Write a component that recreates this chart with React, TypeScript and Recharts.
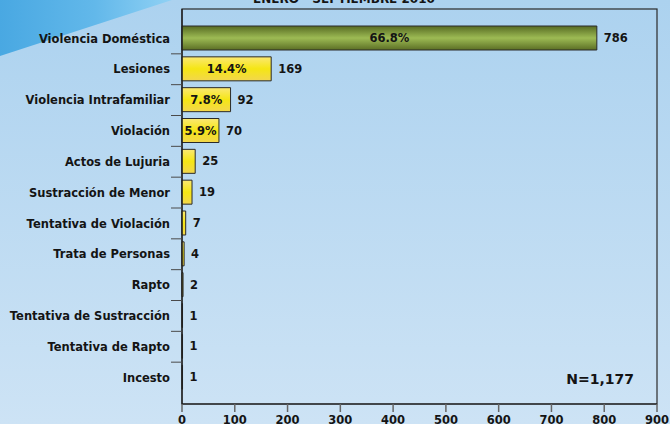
import React from 'react';
import { BarChart, Bar, XAxis, YAxis, LabelList, Cell } from 'recharts';

const categories = [
  'Violencia Doméstica',
  'Lesiones',
  'Violencia Intrafamiliar',
  'Violación',
  'Actos de Lujuria',
  'Sustracción de Menor',
  'Tentativa de Violación',
  'Trata de Personas',
  'Rapto',
  'Tentativa de Sustracción',
  'Tentativa de Rapto',
  'Incesto',
];
const counts = [786, 169, 92, 70, 25, 19, 7, 4, 2, 1, 1, 1];
const percents = ['66.8%', '14.4%', '7.8%', '5.9%', '', '', '', '', '', '', '', ''];
const xTicks = [0, 100, 200, 300, 400, 500, 600, 700, 800, 900];
const titleText = 'ENERO - SEPTIEMBRE 2010';
const totalLabel = 'N=1,177';

const data = categories.map((name, i) => ({ name, value: counts[i], pct: percents[i] }));

const W = 670;
const H = 424;
const PLOT_LEFT = 182;
const PLOT_RIGHT = 657;
const PLOT_TOP = 9;
const PLOT_BOTTOM = 404;
const PAD_TOP = 14;
const PAD_BOTTOM = 11;
const BAND = (PLOT_BOTTOM - PLOT_TOP - PAD_TOP - PAD_BOTTOM) / categories.length;
const TICK_MARGIN = 12;
const FONT = '"DejaVu Sans", Verdana, sans-serif';
const FS = 11.5;

const YTick = (props: any) => {
  const { x, y, payload, index } = props;
  const axisX = x + TICK_MARGIN;
  return (
    <g>
      <text
        x={x}
        y={y}
        dy="0.36em"
        textAnchor="end"
        fill="#141414"
        fontSize={FS}
        fontWeight="bold"
        fontFamily={FONT}
      >
        {payload.value}
      </text>
      {index < categories.length - 1 && (
        <line x1={axisX - 11} x2={axisX} y1={y + BAND / 2} y2={y + BAND / 2} stroke="#4a4a4a" strokeWidth={1} />
      )}
    </g>
  );
};

export default function App() {
  return (
    <div style={{ position: 'absolute', left: 0, top: 0, width: W, height: H, overflow: 'hidden', fontFamily: FONT }}>
      <svg width={W} height={H} style={{ position: 'absolute', left: 0, top: 0 }}>
        <defs>
          <linearGradient id="bgGrad" x1="0" y1="0" x2="0" y2="1">
            <stop offset="0%" stopColor="#acd2ef" />
            <stop offset="100%" stopColor="#cde3f5" />
          </linearGradient>
          <linearGradient id="triGrad" x1="0" y1="0" x2="1" y2="0">
            <stop offset="0%" stopColor="#49a8e2" />
            <stop offset="55%" stopColor="#62b8ea" />
            <stop offset="100%" stopColor="#90d1f4" />
          </linearGradient>
        </defs>
        <rect x={0} y={0} width={W} height={H} fill="url(#bgGrad)" />
        <polygon points="0,0 172,0 0,56" fill="url(#triGrad)" />
        <rect
          x={PLOT_LEFT}
          y={PLOT_TOP}
          width={PLOT_RIGHT - PLOT_LEFT}
          height={PLOT_BOTTOM - PLOT_TOP}
          fill="none"
          stroke="#2a2a2a"
          strokeWidth={1.2}
        />
        <text x={344} y={3} textAnchor="middle" fontSize={12} fontWeight="bold" fontFamily={FONT} fill="#141414">
          {titleText}
        </text>
        <text x={634} y={384} textAnchor="end" fontSize={14} fontWeight="bold" fontFamily={FONT} fill="#141414">
          {totalLabel}
        </text>
      </svg>
      <div style={{ position: 'absolute', left: 0, top: 0 }}>
        <BarChart
          width={W}
          height={H}
          data={data}
          layout="vertical"
          margin={{ top: PLOT_TOP, right: W - PLOT_RIGHT, bottom: 0, left: 0 }}
        >
          <defs>
            <linearGradient id="greenGrad" x1="0" y1="0" x2="0" y2="1">
              <stop offset="0%" stopColor="#566a22" />
              <stop offset="50%" stopColor="#9dbb54" />
              <stop offset="100%" stopColor="#5b6e25" />
            </linearGradient>
            <linearGradient id="yellowGrad" x1="0" y1="0" x2="0" y2="1">
              <stop offset="0%" stopColor="#fbe873" />
              <stop offset="50%" stopColor="#f5e614" />
              <stop offset="100%" stopColor="#f2d64e" />
            </linearGradient>
          </defs>
          <XAxis
            type="number"
            domain={[0, 900]}
            ticks={xTicks}
            interval={0}
            height={20}
            tickSize={8}
            tickMargin={4}
            axisLine={{ stroke: '#1a1a1a', strokeWidth: 1.2 }}
            tickLine={{ stroke: '#666', strokeWidth: 1.5 }}
            tick={{ fontSize: FS, fontWeight: 'bold', fill: '#141414', fontFamily: FONT }}
          />
          <YAxis
            type="category"
            dataKey="name"
            width={PLOT_LEFT}
            interval={0}
            tickSize={0}
            tickMargin={TICK_MARGIN}
            tickLine={false}
            padding={{ top: PAD_TOP, bottom: PAD_BOTTOM }}
            axisLine={{ stroke: '#1a1a1a', strokeWidth: 1.2 }}
            tick={<YTick />}
          />
          <Bar dataKey="value" barSize={24} stroke="#2a2a2a" strokeWidth={1} isAnimationActive={false}>
            {data.map((d, i) => (
              <Cell key={d.name} fill={i === 0 ? 'url(#greenGrad)' : 'url(#yellowGrad)'} />
            ))}
            <LabelList
              dataKey="pct"
              position="center"
              fill="#141414"
              fontSize={FS}
              fontWeight="bold"
              fontFamily={FONT}
            />
            <LabelList
              dataKey="value"
              position="right"
              offset={7}
              fill="#141414"
              fontSize={FS}
              fontWeight="bold"
              fontFamily={FONT}
            />
          </Bar>
        </BarChart>
      </div>
    </div>
  );
}
